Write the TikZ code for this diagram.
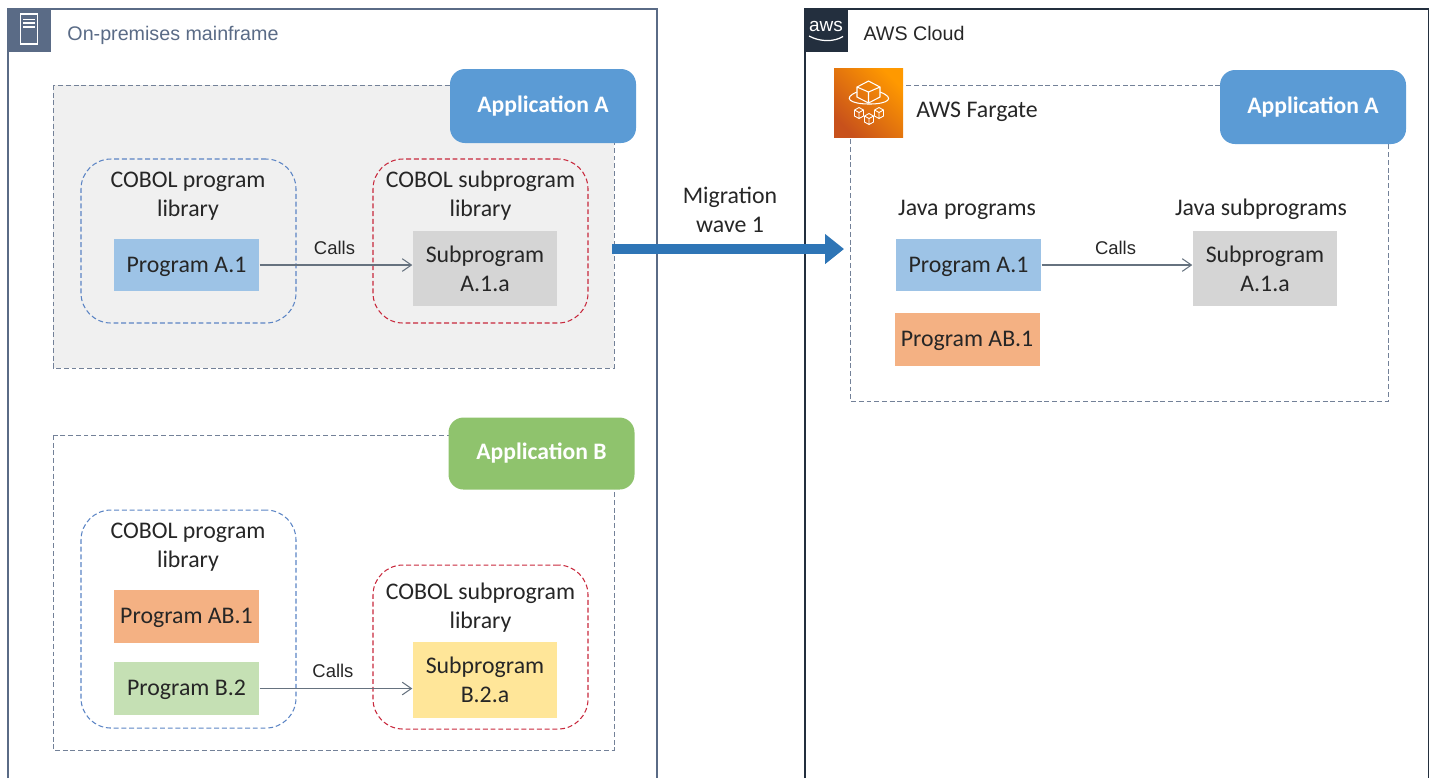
\documentclass[tikz,border=0pt]{standalone}
\usepackage{fontspec}
\setmainfont{Carlito}
\newfontfamily\labelfont{Liberation Sans}
\usetikzlibrary{arrows.meta}

\definecolor{corpslate}{HTML}{5A6B86}
\definecolor{awsnavy}{HTML}{232F3E}
\definecolor{tagblue}{HTML}{5B9BD5}
\definecolor{taggreen}{HTML}{8FC36D}
\definecolor{progblue}{HTML}{9DC3E6}
\definecolor{progorange}{HTML}{F4B183}
\definecolor{proggreen}{HTML}{C5E0B4}
\definecolor{subgray}{HTML}{D5D5D5}
\definecolor{subyellow}{HTML}{FFE699}
\definecolor{wavearrow}{HTML}{2E75B6}
\definecolor{libblue}{HTML}{5B84C4}
\definecolor{libcrimson}{HTML}{C8283C}
\definecolor{callgray}{HTML}{66727F}
\definecolor{fargatedark}{HTML}{C8511B}
\definecolor{fargatelight}{HTML}{FF9900}

\tikzset{
  every node/.style={font=\fontsize{6.78}{8.25}\selectfont, text=black!85, align=center, inner sep=0pt},
  finedash/.style={dash pattern=on 1.4pt off 0.8pt},
  appbox/.style={draw=corpslate!85, finedash, line width=0.28pt},
  apptag/.style={rounded corners=0.15cm, text=white, font=\fontsize{6.72}{8.25}\selectfont\bfseries, minimum width=1.86cm},
  liblue/.style={draw=libblue, finedash, rounded corners=0.3cm, line width=0.3pt, minimum width=2.15cm},
  libred/.style={draw=libcrimson, finedash, rounded corners=0.3cm, line width=0.3pt, minimum width=2.15cm},
  prog/.style={minimum width=1.45cm, minimum height=0.525cm, text height=5pt, text depth=1pt},
  subprog/.style={minimum width=1.44cm, minimum height=0.755cm, fill=subgray},
  calls/.style={draw=callgray, line width=0.3pt, -{Straight Barb[length=2.6pt,width=3.6pt]}},
  callstext/.style={font=\labelfont\fontsize{5.25}{6}\selectfont},
  microcube/.pic={
    \draw[white, line width=0.25pt] (-0.045, 0.03) -- (0, 0.055) -- (0.045, 0.03) -- (0.045, -0.03) -- (0, -0.055) -- (-0.045, -0.03) -- cycle
      (-0.045, 0.03) -- (0, 0.005) -- (0.045, 0.03) (0, 0.005) -- (0, -0.055);
  }
}

\begin{document}
\begin{tikzpicture}
  \useasboundingbox (0, 0) rectangle (14.36, -7.78);

  % On-premises mainframe
  \draw[corpslate, line width=0.32pt] (0.08, -7.78) -- (0.08, -0.09) -- (6.57, -0.09) -- (6.57, -7.78);
  \node[fill=corpslate, minimum size=0.43cm] (mainTile) at (0.295, -0.305) {};
  \draw[white, line width=0.3pt] (0.205, -0.14) rectangle (0.375, -0.44);
  \foreach \y in {-0.195, -0.23, -0.27}
    \draw[white, line width=0.3pt] (0.23, \y) -- (0.35, \y);
  \node[text=corpslate, font=\labelfont\fontsize{5.6}{7}\selectfont] (mainLabel) at (1.73, -0.35) {On-premises mainframe};

  % Application A
  \draw[appbox, fill=black!6] (0.53, -0.85) rectangle (6.14, -3.68);
  \node[apptag, fill=tagblue, minimum height=0.74cm] (tagA) at (5.43, -1.06) {Application A};
  \node[liblue, minimum height=1.64cm] (libProgA) at (1.885, -2.41) {};
  \node[libred, minimum height=1.64cm] (libSubA) at (4.805, -2.41) {};
  \node (textProgA) at (1.88, -1.965) {COBOL program\\library};
  \node (textSubA) at (4.805, -1.96) {COBOL subprogram\\library};
  \node[prog, fill=progblue] (progA) at (1.865, -2.65) {Program A.1};
  \node[subprog] (subA) at (4.85, -2.685) {Subprogram\\A.1.a};
  \draw[calls] (progA) -- (subA.west |- progA) node[callstext, pos=0.49, above=0.1cm] (callsA) {Calls};

  % Application B
  \draw[appbox] (0.53, -4.35) rectangle (6.14, -7.5);
  \node[apptag, fill=taggreen, minimum height=0.72cm] (tagB) at (5.415, -4.535) {Application B};
  \node[liblue, minimum height=2.18cm] (libProgB) at (1.885, -6.19) {};
  \node[libred, minimum height=1.64cm] (libSubB) at (4.805, -6.47) {};
  \node (textProgB) at (1.88, -5.475) {COBOL program\\library};
  \node (textSubB) at (4.805, -6.08) {COBOL subprogram\\library};
  \node[prog, fill=progorange] (progAB) at (1.865, -6.165) {Program AB.1};
  \node[prog, fill=proggreen] (progB) at (1.865, -6.885) {Program B.2};
  \node[subprog, fill=subyellow] (subB) at (4.85, -6.8) {Subprogram\\B.2.a};
  \draw[calls] (progB) -- (subB.west |- progB) node[callstext, pos=0.48, above=0.1cm] (callsB) {Calls};

  % AWS Cloud
  \draw[awsnavy, line width=0.3pt] (8.05, -7.78) -- (8.05, -0.09) -- (14.28, -0.09) -- (14.28, -7.78);
  \node[fill=awsnavy, minimum size=0.43cm] (awsTile) at (8.265, -0.305) {};
  \node[text=white, font=\labelfont\fontsize{5.4}{6}\selectfont] (awsLogo) at (8.26, -0.265) {aws};
  \draw[white, line width=0.35pt] (8.09, -0.36) .. controls (8.2, -0.42) and (8.34, -0.42) .. (8.43, -0.365);
  \node[font=\labelfont\fontsize{5.6}{7}\selectfont] (awsLabel) at (9.14, -0.33) {AWS Cloud};

  % AWS Fargate
  \draw[appbox] (8.5, -0.85) rectangle (13.88, -4.01);
  \node[shading=axis, left color=fargatelight, right color=fargatedark, shading angle=-45, minimum size=0.69cm] (fargateIcon) at (8.685, -1.025) {};
  \draw[white, line width=0.3pt] (8.57, -0.87) -- (8.685, -0.81) -- (8.8, -0.87) -- (8.8, -0.97) -- (8.685, -1.03) -- (8.57, -0.97) -- cycle
    (8.57, -0.87) -- (8.685, -0.92) -- (8.8, -0.87) (8.685, -0.92) -- (8.685, -1.03);
  \draw[white, line width=0.3pt] (8.57, -0.92) .. controls (8.42, -0.98) and (8.5, -1.04) .. (8.695, -1.04) .. controls (8.88, -1.04) and (8.96, -0.98) .. (8.8, -0.92);
  \foreach \x/\y in {8.59/-1.13, 8.69/-1.19, 8.79/-1.13}
    \pic at (\x, \y) {microcube};
  \node (fargateLabel) at (9.77, -1.115) {AWS Fargate};
  \node[apptag, fill=tagblue, minimum height=0.74cm] (tagCloud) at (13.13, -1.07) {Application A};

  \node (textJava) at (9.67, -2.095) {Java programs};
  \node (textJavaSub) at (12.61, -2.09) {Java subprograms};
  \node[prog, fill=progblue] (javaA) at (9.685, -2.65) {Program A.1};
  \node[prog, fill=progorange] (javaAB) at (9.67, -3.395) {Program AB.1};
  \node[subprog] (javaSub) at (12.65, -2.685) {Subprogram\\A.1.a};
  \draw[calls] (javaA) -- (javaSub.west |- javaA) node[callstext, pos=0.49, above=0.1cm] (callsJava) {Calls};

  % Migration
  \node (textWave) at (7.3, -2.095) {Migration\\wave 1};
  \coordinate (waveStart) at (6.12, -2.49);
  \coordinate (waveEnd) at (8.44, -2.49);
  \draw[wavearrow, line width=2.9pt, -{Triangle[length=0.19cm, width=0.29cm]}] (waveStart) -- (waveEnd);

\end{tikzpicture}
\end{document}
